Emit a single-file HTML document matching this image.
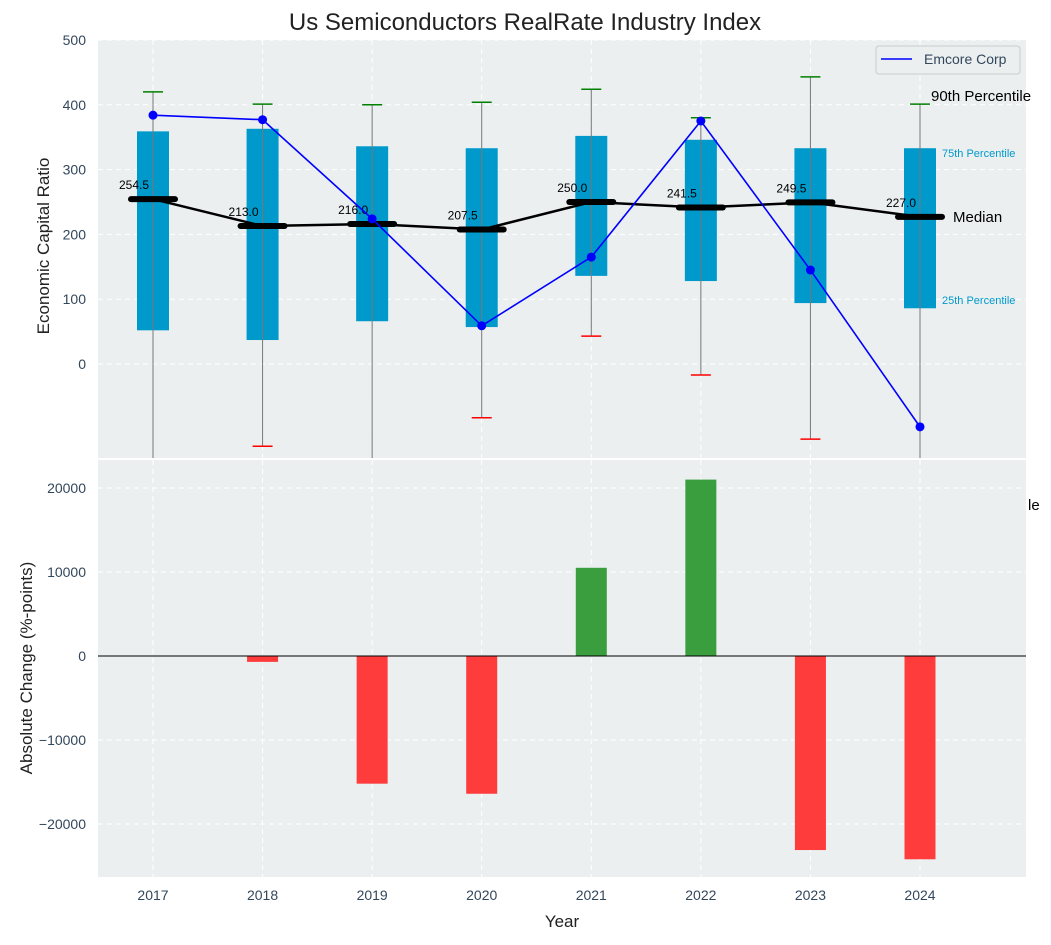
<!DOCTYPE html>
<html><head><meta charset="utf-8"><style>
body{margin:0;background:#fff;font-family:"Liberation Sans",sans-serif}
svg text{font-family:"Liberation Sans",sans-serif}
</style></head><body>
<svg id="c" width="1051" height="940" xmlns="http://www.w3.org/2000/svg"></svg>
<script>
const years=[2017,2018,2019,2020,2021,2022,2023,2024];
const q1=[52,37,66,57,136,128,94,86];
const q3=[359,363,336,333,352,346,333,333];
const p90=[420,401,400,404,424,380,443,401];
const p10=[-160,-127,-160,-83,43,-17,-116,-160];
const medians=[254.5,213.0,216.0,207.5,250.0,241.5,249.5,227.0];
const emcore=[384,377,224,59,165,375,145,-97];
const changes=[0,-700,-15200,-16400,10500,21000,-23100,-24200];
const topTicks=[0,100,200,300,400,500];
const botTicks=[-20000,-10000,0,10000,20000];

const svg=document.getElementById('c');
const NS='http://www.w3.org/2000/svg';
function el(t,a,p){const e=document.createElementNS(NS,t);for(const k in a)e.setAttribute(k,a[k]);(p||svg).appendChild(e);return e;}
const PL=98,PR=1026,T1=40,B1=458,T2=460,B2=877;
const xs=i=>153+i*(920-153)/7;
const y1=v=>364-v*0.648;
const y2=v=>656-v*0.0084;

let g=el('rect',{x:PL,y:T1,width:PR-PL,height:B1-T1,fill:'#ebeff0'});


g=el('rect',{x:PL,y:T2,width:PR-PL,height:B2-T2,fill:'#ebeff0'});



topTicks.forEach(t=>{
  let l=el('line',{x1:PL,x2:PR,y1:y1(t),y2:y1(t),stroke:'#fff','stroke-dasharray':'5,4','stroke-width':1});
  
  
  let tx=el('text',{x:PL-12,y:y1(t)+5,'text-anchor':'end','font-size':14,fill:'#33475b'});tx.textContent=t;
  
  
});
botTicks.forEach(t=>{
  let l=el('line',{x1:PL,x2:PR,y1:y2(t),y2:y2(t),stroke:'#fff','stroke-dasharray':'5,4','stroke-width':1});
  
  
  let tx=el('text',{x:PL-12,y:y2(t)+5,'text-anchor':'end','font-size':14,fill:'#33475b'});tx.textContent=t<0?'\u2212'+(-t):t;
  
  
});
years.forEach((yr,i)=>{
  [[T1,B1],[T2,B2]].forEach(r=>{
    let l=el('line',{x1:xs(i),x2:xs(i),y1:r[0],y2:r[1],stroke:'#fff','stroke-dasharray':'5,4'});
    
    
  });
  let tx=el('text',{x:xs(i),y:900,'text-anchor':'middle','font-size':14,fill:'#33475b'});tx.textContent=yr;
  
  
});

const defs=el('defs',{});
const cp=el('clipPath',{id:'cp1'},defs);el('rect',{x:PL,y:T1,width:PR-PL,height:B1-T1},cp);
const topG=el('g',{'clip-path':'url(#cp1)'});



years.forEach((yr,i)=>{
  let b=el('rect',{x:xs(i)-16,y:y1(q3[i]),width:32,height:y1(q1[i])-y1(q3[i]),fill:'#0099cc'},topG);
  
  
  let w=el('line',{x1:xs(i),x2:xs(i),y1:y1(p90[i]),y2:y1(p10[i]),stroke:'#777','stroke-width':1},topG);
  
  
  let c1=el('line',{x1:xs(i)-10,x2:xs(i)+10,y1:y1(p90[i]),y2:y1(p90[i]),stroke:'green','stroke-width':1.5},topG);
  
  
  let c2=el('line',{x1:xs(i)-10,x2:xs(i)+10,y1:y1(p10[i]),y2:y1(p10[i]),stroke:'red','stroke-width':1.5},topG);
  
  
});
let mp=el('polyline',{points:medians.map((m,i)=>xs(i)+','+y1(m)).join(' '),fill:'none',stroke:'#000','stroke-width':2.5},topG);


medians.forEach((m,i)=>{
  let l=el('line',{x1:xs(i)-22,x2:xs(i)+22,y1:y1(m),y2:y1(m),stroke:'#000','stroke-width':6,'stroke-linecap':'round'},topG);
  
  
  let t=el('text',{x:xs(i)-4,y:y1(m)-10,'text-anchor':'end','font-size':12,fill:'#000'},topG);t.textContent=m.toFixed(1);
  
  
});
let ep=el('polyline',{points:emcore.map((v,i)=>xs(i)+','+y1(v)).join(' '),fill:'none',stroke:'blue','stroke-width':1.6},topG);


emcore.forEach((v,i)=>{
  let c=el('circle',{cx:xs(i),cy:y1(v),r:4.5,fill:'blue'},topG);
  
  
});
const ann=[['90th Percentile',931,101,15,'#000'],['75th Percentile',942,157,11,'#0099cc'],['Median',953,222,15,'#000'],['25th Percentile',942,304,11,'#0099cc'],['le',1028,510,15,'#000']];
ann.forEach(a=>{let t=el('text',{x:a[1],y:a[2],'font-size':a[3],fill:a[4]});t.textContent=a[0];
  
  });

let lg=el('g',{});


el('rect',{x:876,y:46,width:144,height:28,rx:3,fill:'#ebeff0',stroke:'#ccc'},lg);
el('line',{x1:881,x2:912,y1:59,y2:59,stroke:'blue','stroke-width':1.6},lg);
let lt=el('text',{x:924,y:64,'font-size':14,fill:'#33475b'},lg);lt.textContent='Emcore Corp';

changes.forEach((v,i)=>{
  let b=el('rect',{x:xs(i)-15.5,y:Math.min(y2(v),y2(0)),width:31,height:Math.abs(y2(v)-y2(0)),fill:v>=0?'#3a9d3e':'#ff3c3c'});
  
  
});
let zl=el('line',{x1:PL,x2:PR,y1:y2(0),y2:y2(0),stroke:'#000','stroke-width':1});



const tt=[['Us Semiconductors RealRate Industry Index',525,30,24,'middle'],['Year',562,927,17,'middle']];
tt.forEach(a=>{let t=el('text',{x:a[1],y:a[2],'font-size':a[3],'text-anchor':a[4],fill:'#222'});t.textContent=a[0];
  
  });
let ya=el('text',{x:0,y:0,'font-size':17,'text-anchor':'middle',fill:'#222',transform:'translate(49,246) rotate(-90)'});ya.textContent='Economic Capital Ratio';


let yb=el('text',{x:0,y:0,'font-size':17,'text-anchor':'middle',fill:'#222',transform:'translate(32,668) rotate(-90)'});yb.textContent='Absolute Change (%-points)';


</script>
</body></html>
